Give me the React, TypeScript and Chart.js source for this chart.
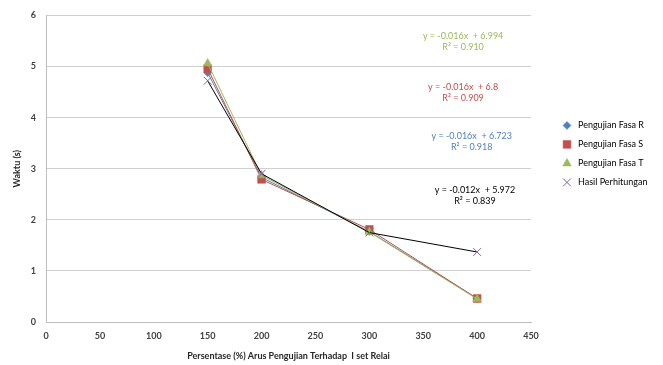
import React, { useEffect, useRef } from 'react';
import { Chart, registerables } from 'chart.js';
import { drawPoint } from 'chart.js/helpers';

Chart.register(...registerables);

const xValues = [150, 200, 300, 400];
const fasaR = [4.88, 2.83, 1.77, 0.46];
const fasaS = [4.96, 2.79, 1.81, 0.46];
const fasaT = [5.06, 2.87, 1.76, 0.45];
const hasil = [4.72, 2.9, 1.75, 1.37];
const seriesNames = ['Pengujian Fasa R', 'Pengujian Fasa S', 'Pengujian Fasa T', 'Hasil Perhitungan'];
const trendEq = ['y = -0.016x  + 6.723', 'y = -0.016x  + 6.8', 'y = -0.016x  + 6.994', 'y = -0.012x  + 5.972'];
const trendR2 = ['R² = 0.918', 'R² = 0.909', 'R² = 0.910', 'R² = 0.839'];
const eqAnchorX = [395, 387, 387, 398];
const eqAnchorY = [3.63, 4.59, 5.59, 2.58];
const xTitle = 'Persentase (%) Arus Pengujian Terhadap  I set Relai';
const yTitle = 'Waktu (s)';

const FONT = 'Lato, "Liberation Sans", sans-serif';
const markerColors = ['#4F81BD', '#C0504D', '#9BBB59', '#8064A2'];
const lineColors = ['#4F81BD', '#C0504D', '#9BBB59', '#000000'];
const textColors = ['#4F81BD', '#C0504D', '#9BBB59', '#000000'];
const pointStyles = ['rectRot', 'rect', 'triangle', 'crossRot'];
const pointRadii = [4, 5.5, 5, 5.5];

const toPoints = (ys: number[]) => xValues.map((x, i) => ({ x, y: ys[i] }));

export default function App() {
  const ref = useRef<HTMLCanvasElement>(null);
  useEffect(() => {
    if (!ref.current) return;
    const series = [fasaR, fasaS, fasaT, hasil];
    const chart = new Chart(ref.current, {
      type: 'scatter',
      data: {
        datasets: series.map((s, i) => ({
          label: seriesNames[i],
          data: toPoints(s),
          showLine: true,
          borderColor: lineColors[i],
          borderWidth: 1,
          pointStyle: pointStyles[i] as any,
          pointRadius: pointRadii[i],
          pointBackgroundColor: markerColors[i],
          pointBorderColor: markerColors[i],
          pointBorderWidth: i === 3 ? 1 : 0.5,
          order: 4 - i,
        })),
      },
      options: {
        animation: false,
        responsive: true,
        maintainAspectRatio: false,
        layout: { padding: { top: 15, right: 132, bottom: 0, left: 0 } },
        plugins: {
          legend: { display: false },
          tooltip: { enabled: false },
        },
        scales: {
          x: {
            type: 'linear',
            min: 0,
            max: 450,
            ticks: {
              stepSize: 50,
              padding: 9,
              color: '#404040',
              font: { family: FONT, size: 9, weight: 'bold' },
            },
            grid: { display: false, drawTicks: false },
            border: { color: '#BFBFBF' },
            title: {
              display: true,
              text: xTitle,
              color: '#262626',
              font: { family: FONT, size: 9, weight: 'bold' },
              padding: { top: 0, bottom: 4 },
            },
            afterFit: (s: any) => { s.height = 43; },
          },
          y: {
            type: 'linear',
            min: 0,
            max: 6,
            ticks: {
              stepSize: 1,
              padding: 10,
              color: '#404040',
              font: { family: FONT, size: 9, weight: 'bold' },
            },
            grid: { color: '#D0D0D0', drawTicks: false },
            border: { color: '#BFBFBF' },
            title: {
              display: true,
              text: yTitle,
              color: '#262626',
              font: { family: FONT, size: 9, weight: 'bold' },
              padding: { top: 12, bottom: 0 },
            },
            afterFit: (s: any) => { s.width = 46; },
          },
        },
      },
      plugins: [
        {
          id: 'legendAndTrendText',
          afterDatasetsDraw(c: any) {
            const ctx = c.ctx;
            const xs = c.scales.x;
            const ys = c.scales.y;
            const area = c.chartArea;
            const lx = area.right + 36;
            const ly0 = area.top + 110;
            ctx.save();
            // legend markers
            c.data.datasets.forEach((ds: any, i: number) => {
              ctx.fillStyle = ds.pointBackgroundColor;
              ctx.strokeStyle = ds.pointBorderColor;
              ctx.lineWidth = ds.pointBorderWidth;
              drawPoint(ctx, { pointStyle: ds.pointStyle, radius: ds.pointRadius, rotation: 0, borderWidth: ds.pointBorderWidth }, lx, ly0 + i * 19);
            });
            // trendline equations
            ctx.textAlign = 'center';
            ctx.textBaseline = 'middle';
            ctx.font = `9px ${FONT}`;
            for (let i = 0; i < trendEq.length; i++) {
              const px = xs.getPixelForValue(eqAnchorX[i]);
              const py = ys.getPixelForValue(eqAnchorY[i]);
              ctx.fillStyle = textColors[i];
              ctx.fillText(trendEq[i], px, py);
              ctx.fillText(trendR2[i], px, py + 11);
            }
            // legend labels
            ctx.textAlign = 'left';
            ctx.fillStyle = '#000';
            for (let i = 0; i < seriesNames.length; i++) {
              ctx.fillText(seriesNames[i], lx + 11, ly0 + i * 19);
            }
            ctx.restore();
          },
        },
      ],
    });
    return () => chart.destroy();
  }, []);
  return (
    <div style={{ position: 'fixed', left: 0, top: 0, width: 663, height: 365, background: '#fff' }}>
      <canvas ref={ref} />
    </div>
  );
}
